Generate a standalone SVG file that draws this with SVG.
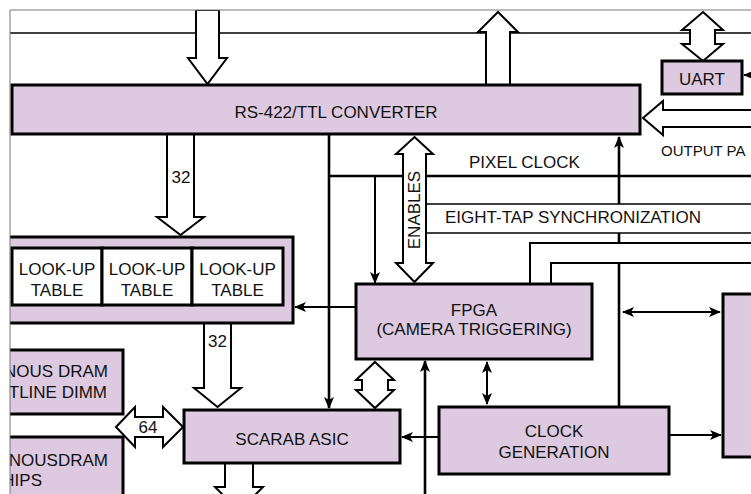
<svg xmlns="http://www.w3.org/2000/svg" width="751" height="494" viewBox="0 0 751 494">
<style>
.box{fill:#DDCAE1;stroke:#000;stroke-width:3}
.wbox{fill:#fff;stroke:#000;stroke-width:3}
.hol{fill:#fff;stroke:#000;stroke-width:2;stroke-linejoin:miter}
.t{font-family:"Liberation Sans",Arial,sans-serif;font-size:17px;fill:#111}
.m{text-anchor:middle}
.e{text-anchor:end}
.ln{fill:none;stroke:#000;stroke-width:2}
.thin{fill:none;stroke:#000;stroke-width:1.5}
.thk{fill:none;stroke:#000;stroke-width:2.6}
</style>
<defs>
<clipPath id="frame"><rect x="10" y="10" width="741" height="484"/></clipPath>
<marker id="ah" viewBox="0 0 12 10" refX="11" refY="5" markerWidth="12" markerHeight="10" markerUnits="userSpaceOnUse" orient="auto-start-reverse">
<path d="M0,0 L12,5 L0,10 L3,5 z" fill="#000"/>
</marker>
</defs>
<rect width="751" height="494" fill="#fff"/>
<g clip-path="url(#frame)">
<g id="connectors">
<line class="thin" x1="10" y1="33" x2="751" y2="33"/>
<line class="thk" x1="329" y1="134" x2="329" y2="408" marker-end="url(#ah)"/>
<line class="thk" x1="329" y1="176" x2="751" y2="176"/>
<line class="ln" x1="375" y1="176" x2="375" y2="283" marker-end="url(#ah)"/>
<line class="thin" x1="426" y1="204" x2="751" y2="204"/>
<line class="thin" x1="426" y1="233" x2="751" y2="233"/>
<polyline class="ln" points="530,284 530,243 751,243"/>
<polyline class="ln" points="551,284 551,263 751,263"/>
<line class="thk" x1="619" y1="204" x2="619" y2="137" marker-end="url(#ah)"/>
<line class="thk" x1="619" y1="233" x2="619" y2="243"/>
<line class="thk" x1="619" y1="263" x2="619" y2="407"/>
<line class="ln" x1="356" y1="307" x2="295" y2="307" marker-end="url(#ah)"/>
<line class="ln" x1="623" y1="312" x2="720" y2="312" marker-start="url(#ah)" marker-end="url(#ah)"/>
<line class="thk" x1="425" y1="494" x2="425" y2="361" marker-end="url(#ah)"/>
<line class="ln" x1="487" y1="362" x2="487" y2="404" marker-start="url(#ah)" marker-end="url(#ah)"/>
<line class="ln" x1="439" y1="437" x2="402" y2="437" marker-end="url(#ah)"/>
<line class="ln" x1="669" y1="435" x2="721" y2="435" marker-end="url(#ah)"/>
<line class="ln" x1="751" y1="75" x2="744" y2="75" marker-end="url(#ah)"/>
<polygon class="hol" points="196,10 219,10 219,58 227,58 207.5,84 188,58 196,58"/>
<polygon class="hol" points="486,85 486,32 478,32 498,12 518,32 510,32 510,85"/>
<polygon class="hol" points="703,12 723,30 715,30 715,44 723,44 703,61 682,44 690,44 690,30 682,30"/>
<polygon class="hol" points="753,110 663,110 663,101 643,118 663,135 663,127 753,127"/>
<polygon class="hol" points="167,134 194,134 194,217 204,217 180.5,235 157,217 167,217"/>
<polygon class="hol" points="204,323 231,323 231,388 241,388 217.5,407 194,388 204,388"/>
<polygon class="hol" points="116,427 135,407 135,417 163,417 163,407 183,427 163,447 163,437 135,437 135,447"/>
<polygon class="hol" points="225,463 253,463 253,487 263,487 239,511 215,487 225,487"/>
<polygon class="hol" points="375,362 394,380 388,380 388,390 394,390 375,408 356,390 362,390 362,380 356,380"/>
<polygon class="hol" points="414.5,137 433,154 426,154 426,263 433,263 414.5,282 396,263 403,263 403,154 396,154"/>
</g>
<g id="rs422"><rect class="box" x="12" y="85" width="628" height="49"/><text class="t m" x="336" y="118">RS-422/TTL CONVERTER</text></g>
<g id="uart"><rect class="box" x="662" y="61" width="80" height="33"/><text class="t m" x="702" y="85">UART</text></g>
<g id="lut">
<rect class="box" x="-5" y="237" width="298" height="86"/>
<rect class="wbox" x="12" y="248" width="90" height="57"/>
<rect class="wbox" x="102" y="248" width="90" height="57"/>
<rect class="wbox" x="192" y="248" width="91" height="57"/>
<text class="t m" x="57" y="275">LOOK-UP</text><text class="t m" x="57" y="296">TABLE</text>
<text class="t m" x="147" y="275">LOOK-UP</text><text class="t m" x="147" y="296">TABLE</text>
<text class="t m" x="237.5" y="275">LOOK-UP</text><text class="t m" x="237.5" y="296">TABLE</text>
</g>
<g id="fpga"><rect class="box" x="356" y="284" width="236" height="75"/><text class="t m" x="474" y="316">FPGA</text><text class="t m" x="474" y="335">(CAMERA TRIGGERING)</text></g>
<g id="dimm"><rect class="box" x="-5" y="350" width="128" height="64"/><text class="t e" x="108" y="377">NOUS DRAM</text><text class="t e" x="107" y="398">TLINE DIMM</text></g>
<g id="chips"><rect class="box" x="-5" y="437" width="128" height="70"/><text class="t e" x="108" y="466">NOUSDRAM</text><text class="t e" x="42" y="486">HIPS</text></g>
<g id="scarab"><rect class="box" x="184" y="410" width="216" height="53"/><text class="t m" x="292" y="445">SCARAB ASIC</text></g>
<g id="clockgen"><rect class="box" x="439" y="407" width="230" height="67"/><text class="t m" x="554" y="437">CLOCK</text><text class="t m" x="554" y="458">GENERATION</text></g>
<g id="rightbox"><rect class="box" x="723" y="294" width="40" height="163"/></g>
<g id="labels">
<text class="t" x="661" y="156" style="font-size:15px">OUTPUT PA</text>
<text class="t" x="469" y="168">PIXEL CLOCK</text>
<text class="t" x="445" y="223">EIGHT-TAP SYNCHRONIZATION</text>
<text class="t m" transform="translate(420,210) rotate(-90)">ENABLES</text>
<text class="t m" x="181" y="183">32</text>
<text class="t m" x="217.5" y="347">32</text>
<text class="t m" x="148" y="433">64</text>
</g>
</g>
<g id="frame-lines"><line x1="10" y1="10" x2="751" y2="10" stroke="#777" stroke-width="1"/><line x1="10" y1="10" x2="10" y2="494" stroke="#777" stroke-width="1"/></g>
</svg>
